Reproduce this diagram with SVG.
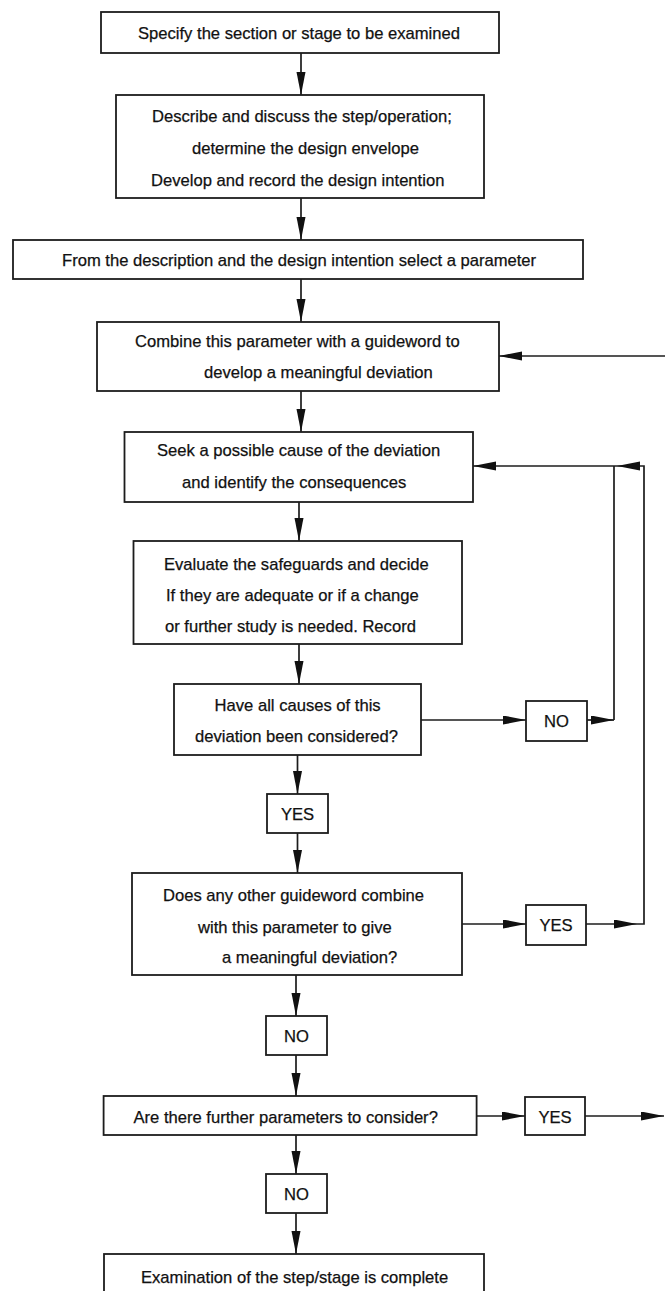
<svg xmlns="http://www.w3.org/2000/svg" width="665" height="1291" viewBox="0 0 665 1291">
<defs>
<style>
.box{fill:#fff;stroke:#1c1c1c;stroke-width:1.8}
.t{font-family:"Liberation Sans",Arial,sans-serif;font-size:16.6px;fill:#111;stroke:#111;stroke-width:0.25}
.c{text-anchor:middle}
.ln{fill:none;stroke:#1c1c1c;stroke-width:1.7}
</style>
<marker id="ah" markerUnits="userSpaceOnUse" markerWidth="26" markerHeight="10" refX="23" refY="4.5" orient="auto">
<path d="M0,0 L23,4.5 L0,9 Z" fill="#111"/>
</marker>
</defs>
<rect width="665" height="1291" fill="#fff"/>

<g id="connectors">
<path class="ln" d="M301,53 V95" marker-end="url(#ah)"/>
<path class="ln" d="M301,198 V240" marker-end="url(#ah)"/>
<path class="ln" d="M301,279 V322" marker-end="url(#ah)"/>
<path class="ln" d="M301,391 V432" marker-end="url(#ah)"/>
<path class="ln" d="M299,502 V541" marker-end="url(#ah)"/>
<path class="ln" d="M299,644 V684" marker-end="url(#ah)"/>
<path class="ln" d="M297.5,755 V794" marker-end="url(#ah)"/>
<path class="ln" d="M297.5,833 V873" marker-end="url(#ah)"/>
<path class="ln" d="M296,975 V1016" marker-end="url(#ah)"/>
<path class="ln" d="M296,1055 V1096" marker-end="url(#ah)"/>
<path class="ln" d="M296,1135 V1174" marker-end="url(#ah)"/>
<path class="ln" d="M296,1213 V1254" marker-end="url(#ah)"/>
<path class="ln" d="M421,720 H526" marker-end="url(#ah)"/>
<path class="ln" d="M587,720 H614" marker-end="url(#ah)"/>
<path class="ln" d="M614,720 V466"/>
<path class="ln" d="M462,924 H526" marker-end="url(#ah)"/>
<path class="ln" d="M586,924 H637" marker-end="url(#ah)"/>
<path class="ln" d="M637,924 H644 V466 H617" marker-end="url(#ah)"/>
<path class="ln" d="M617,466 H473" marker-end="url(#ah)"/>
<path class="ln" d="M476.6,1116 H525" marker-end="url(#ah)"/>
<path class="ln" d="M585,1116 H664" marker-end="url(#ah)"/>
<path class="ln" d="M666,356 H499" marker-end="url(#ah)"/>
</g>

<g id="n-specify">
<rect class="box" x="101" y="12" width="398" height="41"/>
<text class="t" x="138" y="38.5">Specify the section or stage to be examined</text>
</g>
<g id="n-describe">
<rect class="box" x="116" y="95" width="368" height="103"/>
<text class="t" x="152" y="122">Describe and discuss the step/operation;</text>
<text class="t" x="192" y="154">determine the design envelope</text>
<text class="t" x="151" y="185.5">Develop and record the design intention</text>
</g>
<g id="n-select">
<rect class="box" x="13" y="240" width="570" height="39"/>
<text class="t" x="62" y="265.5">From the description and the design intention select a parameter</text>
</g>
<g id="n-combine">
<rect class="box" x="97" y="322" width="402" height="69"/>
<text class="t" x="135" y="347">Combine this parameter with a guideword to</text>
<text class="t" x="204" y="378">develop a meaningful deviation</text>
</g>
<g id="n-seek">
<rect class="box" x="124.5" y="432" width="348.5" height="70"/>
<text class="t" x="157" y="455.5">Seek a possible cause of the deviation</text>
<text class="t" x="182" y="487.5">and identify the consequences</text>
</g>
<g id="n-evaluate">
<rect class="box" x="133.5" y="541" width="328.5" height="103"/>
<text class="t" x="164" y="569.5">Evaluate the safeguards and decide</text>
<text class="t" x="166" y="600.5">If they are adequate or if a change</text>
<text class="t" x="165" y="631.5">or further study is needed. Record</text>
</g>
<g id="n-allcauses">
<rect class="box" x="174" y="684" width="247" height="71"/>
<text class="t" x="214.6" y="710.5">Have all causes of this</text>
<text class="t" x="195" y="741.5">deviation been considered?</text>
</g>
<g id="n-no1">
<rect class="box" x="526" y="701" width="61" height="40"/>
<text class="t c" x="556.5" y="726.5">NO</text>
</g>
<g id="n-yes1">
<rect class="box" x="267" y="794" width="61" height="39"/>
<text class="t c" x="297.5" y="819.5">YES</text>
</g>
<g id="n-otherguide">
<rect class="box" x="132" y="873" width="330" height="102"/>
<text class="t" x="163" y="900.5">Does any other guideword combine</text>
<text class="t" x="198" y="932.5">with this parameter to give</text>
<text class="t" x="222" y="963">a meaningful deviation?</text>
</g>
<g id="n-yes2">
<rect class="box" x="526" y="905" width="60" height="40"/>
<text class="t c" x="556" y="931">YES</text>
</g>
<g id="n-no2">
<rect class="box" x="266" y="1016" width="61" height="39"/>
<text class="t c" x="296.5" y="1041.5">NO</text>
</g>
<g id="n-further">
<rect class="box" x="103.6" y="1096" width="373" height="39"/>
<text class="t" x="133.5" y="1122.5">Are there further parameters to consider?</text>
</g>
<g id="n-yes3">
<rect class="box" x="525" y="1097" width="60" height="38"/>
<text class="t c" x="555" y="1122.5">YES</text>
</g>
<g id="n-no3">
<rect class="box" x="266" y="1174" width="61" height="39"/>
<text class="t c" x="296.5" y="1199.5">NO</text>
</g>
<g id="n-complete">
<rect class="box" x="104" y="1254" width="380" height="50"/>
<text class="t" x="141" y="1282.5">Examination of the step/stage is complete</text>
</g>
</svg>
